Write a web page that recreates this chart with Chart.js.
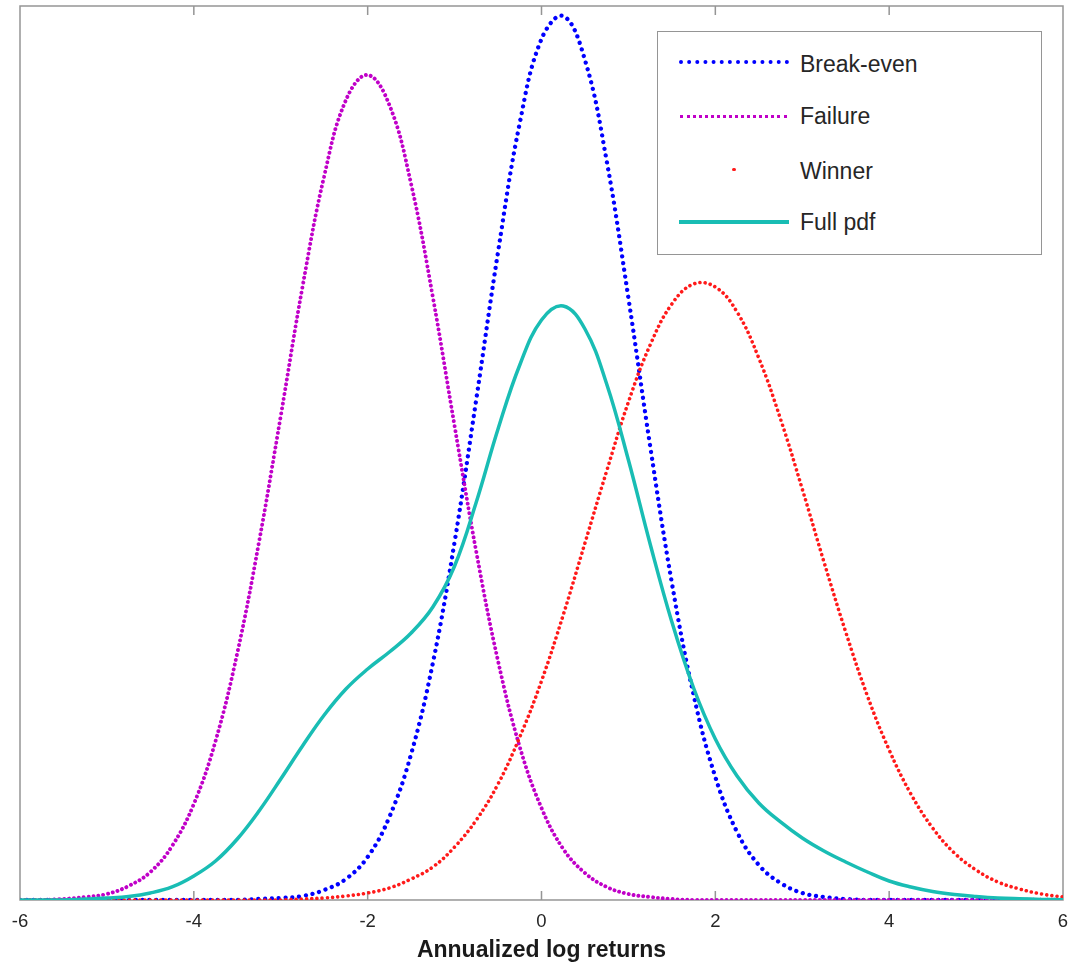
<!DOCTYPE html>
<html>
<head>
<meta charset="utf-8">
<script src="https://cdn.jsdelivr.net/npm/chart.js@4.4.1/dist/chart.umd.min.js"></script>
<style>
  html, body { margin: 0; padding: 0; background: #ffffff; overflow: hidden; }
  #wrap { position: relative; width: 1073px; height: 970px; }
  #c { position: absolute; left: 0; top: 0; }
  #legendBox { position: absolute; left: 657px; top: 30.5px; width: 385px; height: 224.5px;
    box-sizing: border-box; border: 1.5px solid #959595; background: #ffffff; }
  .sample { position: absolute; }
  .lbl { position: absolute; left: 800px; font-family: "Liberation Sans", Arial, Helvetica, sans-serif;
    font-size: 23px; line-height: 23px; color: #262626; transform: translateY(-50%); white-space: nowrap; }
</style>
</head>
<body>
<div id="wrap">
  <canvas id="c" width="1073" height="970"></canvas>
  <div id="legendBox"></div>
  <div class="sample" style="left:679px; top:60.3px; width:110px; height:0; border-top:4px dotted #0000ff;"></div>
  <div class="lbl" style="top:63.8px;">Break-even</div>
  <div class="sample" style="left:680px; top:114.5px; width:107px; height:0; border-top:3px dotted #c000c8;"></div>
  <div class="lbl" style="top:116.2px;">Failure</div>
  <div class="sample" style="left:732.3px; top:167.6px; width:3.6px; height:3.6px; border-radius:50%; background:#ff1a1a;"></div>
  <div class="lbl" style="top:171.2px;">Winner</div>
  <div class="sample" style="left:679px; top:220px; width:110px; height:3.5px; background:#19bdb4;"></div>
  <div class="lbl" style="top:221.7px;">Full pdf</div>
</div>
<script>
// x grid of the curves (annualized log returns)
const xValues = [-6,-5.75,-5.5,-5.25,-5,-4.75,-4.5,-4.25,-4,-3.75,-3.5,-3.25,-3,-2.75,-2.5,-2.25,-2,
  -1.75,-1.5,-1.25,-1,-0.75,-0.5,-0.25,0,0.25,0.5,0.75,1,1.25,1.5,1.75,2,
  2.25,2.5,2.75,3,3.25,3.5,3.75,4,4.25,4.5,4.75,5,5.25,5.5,5.75,6];

const breakEven = [0,0,0,0,0,0,0,0,0,0,0,0.001,0.002,0.004,0.010,0.021,0.043,
  0.083,0.146,0.237,0.358,0.501,0.648,0.777,0.861,0.884,0.840,0.739,0.602,0.454,0.317,0.205,0.123,
  0.068,0.035,0.017,0.007,0.003,0.001,0,0,0,0,0,0,0,0,0,0];

const failure = [0,0,0.001,0.003,0.006,0.014,0.028,0.054,0.096,0.159,0.247,0.358,0.484,0.613,0.724,0.800,0.825,
  0.795,0.716,0.603,0.474,0.348,0.239,0.153,0.092,0.051,0.027,0.013,0.006,0.003,0.001,0,0,
  0,0,0,0,0,0,0,0,0,0,0,0,0,0,0,0];

const winner = [0,0,0,0,0,0,0,0,0,0,0,0,0,0.001,0.002,0.004,0.007,
  0.012,0.021,0.033,0.053,0.080,0.116,0.163,0.219,0.285,0.357,0.429,0.498,0.555,0.596,0.616,0.613,
  0.588,0.542,0.481,0.411,0.338,0.268,0.204,0.150,0.106,0.072,0.047,0.030,0.018,0.011,0.006,0.003];

const fullPdf = [0,0,0,0.001,0.002,0.0035,0.007,0.013,0.024,0.039,0.061,0.089,0.121,0.154,0.185,0.211,0.231,
  0.248,0.267,0.293,0.334,0.398,0.471,0.535,0.580,0.594,0.571,0.516,0.440,0.356,0.278,0.212,0.161,
  0.124,0.097,0.078,0.062,0.049,0.038,0.028,0.019,0.013,0.0085,0.0055,0.0035,0.002,0.0012,0.0006,0.0003];

const xTickMin = -6, xTickMax = 6, xTickStep = 2;
const xTitle = 'Annualized log returns';

function pts(arr) { return xValues.map((x, i) => ({ x: x, y: arr[i] })); }

const framePlugin = {
  id: 'frame',
  beforeDatasetsDraw(chart) {
    const { ctx, chartArea: { left, right, top, bottom }, scales: { x } } = chart;
    ctx.save();
    ctx.strokeStyle = '#959595';
    ctx.lineWidth = 1.5;
    ctx.strokeRect(left, top, right - left, bottom - top);
    x.ticks.forEach(t => {
      const px = x.getPixelForValue(t.value);
      if (px > left + 2 && px < right - 2) {
        ctx.beginPath();
        ctx.moveTo(px, bottom); ctx.lineTo(px, bottom - 9);
        ctx.moveTo(px, top); ctx.lineTo(px, top + 9);
        ctx.stroke();
      }
    });
    ctx.restore();
  }
};

new Chart(document.getElementById('c'), {
  type: 'line',
  data: {
    datasets: [
      { label: 'Full pdf', data: pts(fullPdf), borderColor: '#19bdb4', borderWidth: 3.5,
        pointRadius: 0, tension: 0.4, order: 0 },
      { label: 'Winner', data: pts(winner), borderColor: '#ff1a1a', borderWidth: 3.6,
        borderDash: [0.01, 5.2], borderCapStyle: 'round', pointRadius: 0, tension: 0.4, order: 1 },
      { label: 'Failure', data: pts(failure), borderColor: '#c000c8', borderWidth: 3.9,
        borderDash: [0.01, 4.9], borderCapStyle: 'round', pointRadius: 0, tension: 0.4, order: 2 },
      { label: 'Break-even', data: pts(breakEven), borderColor: '#0000ff', borderWidth: 4.3,
        borderDash: [0.01, 6.8], borderCapStyle: 'round', pointRadius: 0, tension: 0.4, order: 3 }
    ]
  },
  options: {
    responsive: false,
    devicePixelRatio: 1,
    animation: false,
    layout: { padding: { left: 20, right: 10, top: 6, bottom: 13.8 } },
    plugins: { legend: { display: false }, tooltip: { enabled: false } },
    scales: {
      x: {
        type: 'linear', min: xTickMin, max: xTickMax,
        grid: { display: false, drawTicks: false },
        border: { display: false },
        ticks: { stepSize: xTickStep, autoSkip: false, maxRotation: 0, padding: 0, color: '#262626',
          font: { family: '"Liberation Sans", Arial, Helvetica, sans-serif', size: 18.5, lineHeight: 2.39 } },
        title: { display: true, text: xTitle, color: '#1a1a1a', padding: { top: 0.5, bottom: 0 },
          font: { family: '"Liberation Sans", Arial, Helvetica, sans-serif', size: 23, weight: 'bold', lineHeight: 0.5 } }
      },
      y: { type: 'linear', min: 0, max: 0.894, display: false }
    }
  },
  plugins: [framePlugin]
});
</script>
</body>
</html>
